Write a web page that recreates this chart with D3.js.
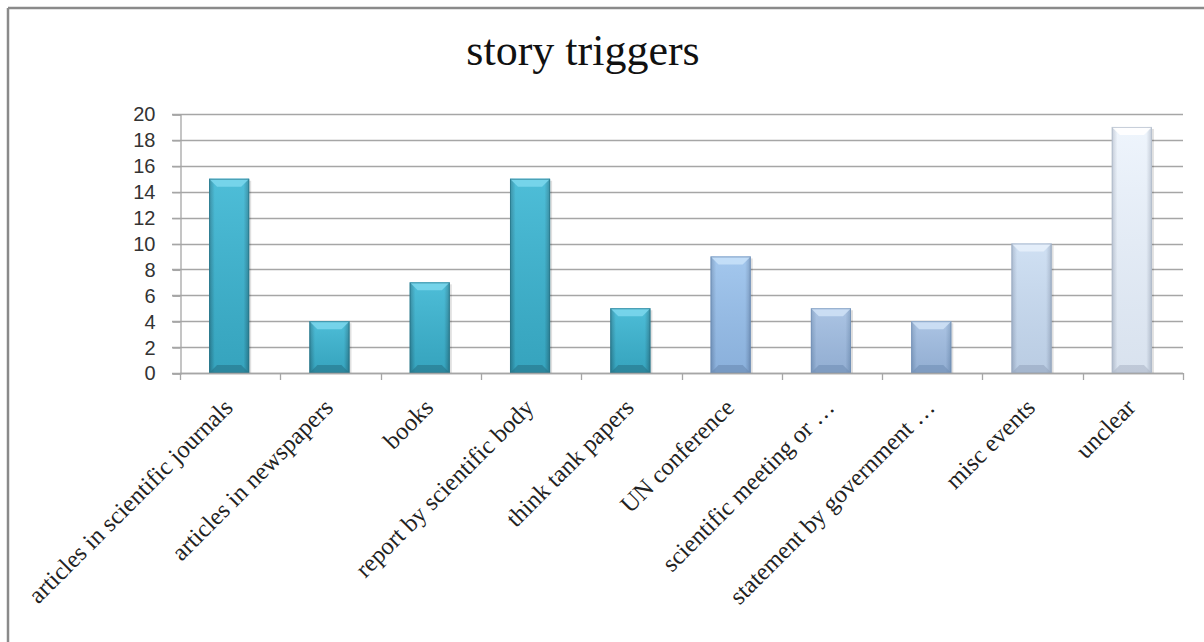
<!DOCTYPE html>
<html>
<head>
<script src="https://cdn.jsdelivr.net/npm/d3@7/dist/d3.min.js"></script>
<style>
  body{ margin:0; background:white; }
</style>
</head>
<body>
<div id="chart"></div>
<script>
var categories = ["articles in scientific journals","articles in newspapers","books","report by scientific body","think tank papers","UN conference","scientific meeting or …","statement by government …","misc events","unclear"]
var values = [15,4,7,15,5,9,5,4,10,19]
// colour per bar: [body, light top, dark bottom]
var barColors = [
  ["#3bb3cf","#7ad6ec","#267589"],
  ["#3bb3cf","#7ad6ec","#267589"],
  ["#3bb3cf","#7ad6ec","#267589"],
  ["#3bb3cf","#7ad6ec","#267589"],
  ["#3bb3cf","#7ad6ec","#267589"],
  ["#95bde9","#c6e0f8","#6a8ab2"],
  ["#9db8dc","#cde0f5","#7290b5"],
  ["#9db8dc","#cde0f5","#7290b5"],
  ["#c6d9ef","#e6f0fb","#96a7bf"],
  ["#e7f0fb","#ffffff","#adb8c8"]
]
var yTicks = [0,2,4,6,8,10,12,14,16,18,20]
var title = "story triggers"

var width = 1204, height = 642
var plotLeft = 180, plotRight = 1183, plotTop = 114, plotBottom = 373

var svg = d3.select("#chart").append("svg")
  .attr("width",width).attr("height",height)

// outer frame (left and top edge visible)
svg.append("line").attr("x1",8).attr("y1",8).attr("x2",width).attr("y2",8)
  .attr("stroke","#8a8a8a").attr("stroke-width",2.5)
svg.append("line").attr("x1",8).attr("y1",8).attr("x2",8).attr("y2",height)
  .attr("stroke","#8a8a8a").attr("stroke-width",2.5)

svg.append("text").text(title)
  .attr("x",583).attr("y",65)
  .attr("text-anchor","middle")
  .attr("font-family","'Liberation Serif', serif")
  .attr("font-size",44)
  .attr("fill","#111")

var x = d3.scaleBand().domain(categories).range([plotLeft,plotRight]).padding(0)
var y = d3.scaleLinear().domain([0,20]).range([plotBottom,plotTop])

// grid lines
svg.append("g").selectAll("line").data(yTicks).enter().append("line")
  .attr("x1",plotLeft-8).attr("x2",plotRight)
  .attr("y1",function(d){return Math.round(y(d))+0.5})
  .attr("y2",function(d){return Math.round(y(d))+0.5})
  .attr("stroke","#a6a6a6").attr("stroke-width",1.3)

// y axis
var yAxis = d3.axisLeft(y).tickValues(yTicks).tickSize(8).tickPadding(17)
var ya = svg.append("g").attr("transform","translate("+(plotLeft+0.5)+",0.5)").call(yAxis)
ya.selectAll("path,line").attr("stroke","#a6a6a6").attr("stroke-width",1.3)
ya.selectAll("text").attr("font-family","'Liberation Sans', sans-serif")
  .attr("font-size",20).attr("fill","#333")

// x axis boundary ticks
var bounds = categories.map(function(c){return x(c)}).concat([plotRight])
svg.append("g").selectAll("line").data(bounds).enter().append("line")
  .attr("x1",function(d){return Math.round(d)+0.5}).attr("x2",function(d){return Math.round(d)+0.5})
  .attr("y1",plotBottom).attr("y2",plotBottom+7)
  .attr("stroke","#a6a6a6").attr("stroke-width",1.3)

// bars with bevel look
var defs = svg.append("defs")
var bw = x.bandwidth()*0.4
var bars = svg.append("g")
categories.forEach(function(c,i){
  var c3 = barColors[i]
  var gid = "g"+i
  var grad = defs.append("linearGradient").attr("id",gid).attr("x1",0).attr("x2",1).attr("y1",0).attr("y2",0)
  grad.append("stop").attr("offset","0%").attr("stop-color",c3[2])
  grad.append("stop").attr("offset","14%").attr("stop-color",c3[0])
  grad.append("stop").attr("offset","86%").attr("stop-color",c3[0])
  grad.append("stop").attr("offset","100%").attr("stop-color",c3[2])
  var vid = "v"+i
  var vg = defs.append("linearGradient").attr("id",vid).attr("x1",0).attr("x2",0).attr("y1",0).attr("y2",1)
  vg.append("stop").attr("offset","0%").attr("stop-color",c3[1]).attr("stop-opacity",0.3)
  vg.append("stop").attr("offset","100%").attr("stop-color",c3[2]).attr("stop-opacity",0.25)

  var x0 = x(c)+x.bandwidth()*0.29
  var x1 = x0+bw
  var y0 = y(values[i])
  var y1 = y(0)
  var b = 8
  var g = bars.append("g")
  // shadow
  g.append("rect").attr("x",x0+2).attr("y",y0+2).attr("width",bw).attr("height",y1-y0-2)
    .attr("fill","#000").attr("opacity",0.12)
  g.append("rect").attr("x",x0).attr("y",y0).attr("width",bw).attr("height",y1-y0)
    .attr("fill","url(#"+gid+")")
  g.append("rect").attr("x",x0).attr("y",y0).attr("width",bw).attr("height",y1-y0)
    .attr("fill","url(#"+vid+")")
  // top bevel
  g.append("path").attr("d","M"+x0+","+y0+"L"+x1+","+y0+"L"+(x1-b)+","+(y0+b)+"L"+(x0+b)+","+(y0+b)+"Z")
    .attr("fill",c3[1]).attr("opacity",0.9)
  // bottom bevel
  g.append("path").attr("d","M"+x0+","+y1+"L"+x1+","+y1+"L"+(x1-b)+","+(y1-b)+"L"+(x0+b)+","+(y1-b)+"Z")
    .attr("fill",c3[2]).attr("opacity",0.6)
  g.append("rect").attr("x",x0+0.5).attr("y",y0+0.5).attr("width",bw-1).attr("height",y1-y0-1)
    .attr("fill","none").attr("stroke",c3[2]).attr("stroke-width",1).attr("opacity",0.7)
})

// x axis line on top of bars
svg.append("line").attr("x1",plotLeft).attr("x2",plotRight)
  .attr("y1",plotBottom+0.5).attr("y2",plotBottom+0.5)
  .attr("stroke","#a6a6a6").attr("stroke-width",1.3)

// category labels
svg.append("g").selectAll("text").data(categories).enter().append("text")
  .text(function(d){return d})
  .attr("transform",function(d){
    return "translate("+(x(d)+x.bandwidth()/2+4)+","+(plotBottom+36)+") rotate(-45)"
  })
  .attr("text-anchor","end")
  .attr("font-family","'Liberation Serif', serif")
  .attr("font-size",24.5)
  .attr("fill","#222")
</script>
</body>
</html>
